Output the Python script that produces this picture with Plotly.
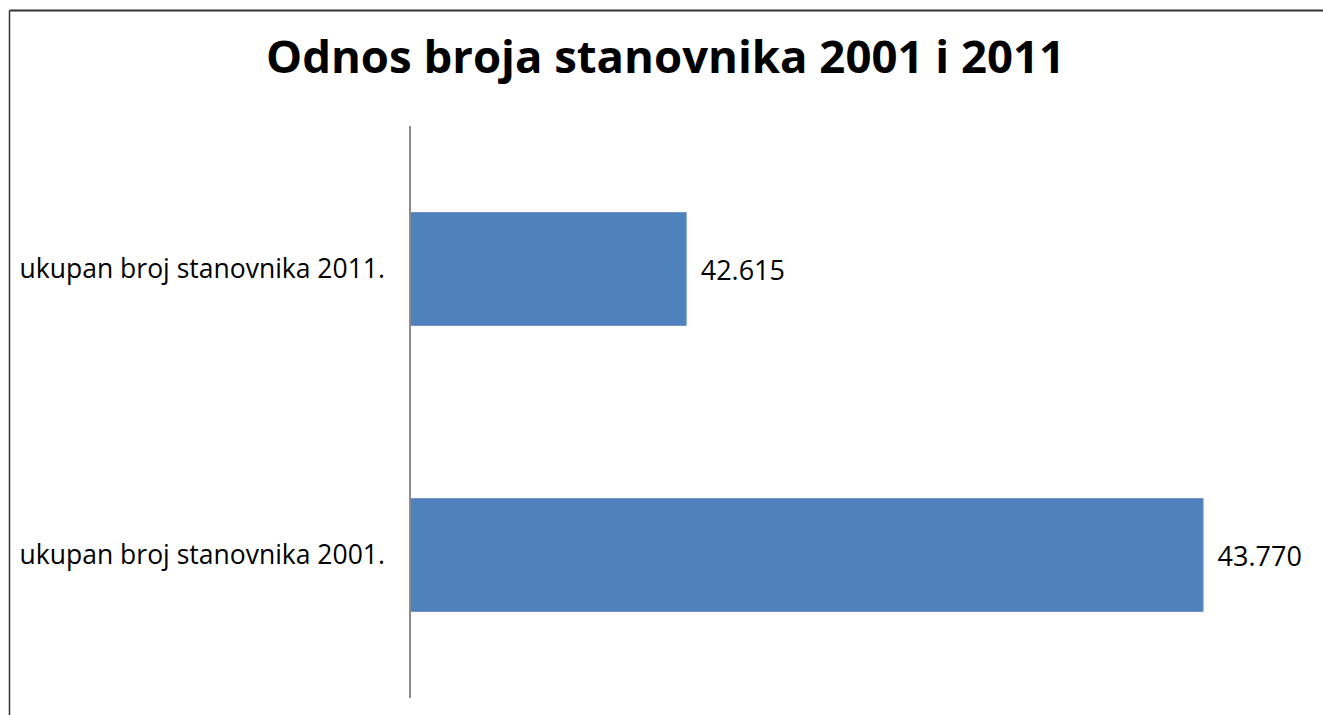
import plotly.graph_objects as go

categories = ["ukupan broj stanovnika 2001.", "ukupan broj stanovnika 2011."]
values = [43770, 42615]
title_text = "Odnos broja stanovnika 2001 i 2011"

W, H = 1323, 715
L, R, T, B = 411, 17, 126, 17
pw, ph = W - L - R, H - T - B
FONT = "Open Sans, Lato, sans-serif"

fig = go.Figure(go.Bar(
    y=categories, x=values, orientation="h",
    marker=dict(color="#4F81BD", line=dict(color="#6E97C9", width=1)),
    texttemplate=" \u2009%{x:,.0f}", textposition="outside",
    textfont=dict(family=FONT, size=27, color="#000000"),
    cliponaxis=False, width=0.395,
))

fig.update_layout(
    width=W, height=H,
    margin=dict(l=L, r=R, t=T, b=B),
    paper_bgcolor="white", plot_bgcolor="white",
    separators=",.",
    showlegend=False,
    title=dict(text="<b>" + title_text + "</b>", x=0.503, xanchor="center",
               y=1 - 57 / H, yanchor="middle",
               font=dict(family=FONT, size=45.5, color="#000000")),
    xaxis=dict(range=[42000, 44000], showgrid=False, zeroline=False,
               showline=False, showticklabels=False, ticks=""),
    yaxis=dict(showgrid=False, zeroline=False, showline=True, linecolor="#8C8C8C",
               linewidth=1.5, ticks="", ticklabelstandoff=19,
               tickfont=dict(family=FONT, size=26.5, color="#000000")),
    shapes=[
        dict(type="line", xref="paper", yref="paper",
             x0=(9.5 - L) / pw, x1=(W - L) / pw,
             y0=(H - 10.5 - B) / ph, y1=(H - 10.5 - B) / ph,
             line=dict(color="#333333", width=2)),
        dict(type="line", xref="paper", yref="paper",
             x0=(9.5 - L) / pw, x1=(9.5 - L) / pw,
             y0=(H - 10.5 - B) / ph, y1=(-B) / ph,
             line=dict(color="#333333", width=1.5)),
    ],
)

fig.write_html(
    "out.html",
    config={"displayModeBar": False},
    post_script="document.body.style.margin='0';document.body.style.overflow='hidden';",
)
